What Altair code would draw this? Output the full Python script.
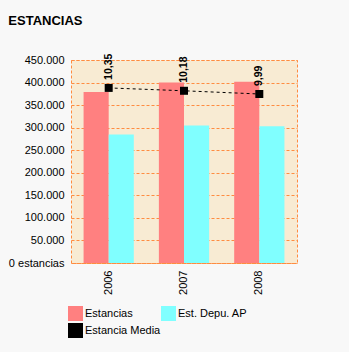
import altair as alt
import pandas as pd

years = ["2006", "2007", "2008"]
estancias = [379000, 400000, 402000]
est_depu = [285000, 305000, 303000]
media = [10.35, 10.18, 9.99]
series_bar = ["Estancias", "Est. Depu. AP"]
series_line = "Estancia Media"

bars = pd.DataFrame(
    [{"year": y, "serie": series_bar[0], "valor": v} for y, v in zip(years, estancias)]
    + [{"year": y, "serie": series_bar[1], "valor": v} for y, v in zip(years, est_depu)]
)
line = pd.DataFrame({"year": years, "media": media, "serie": [series_line] * 3})

FONT = "Liberation Sans"
GRID = "#FF8C40"
all_series = series_bar + [series_line]
legend_order = [series_bar[0], series_line, series_bar[1]]  # column-major fill
color_scale = alt.Scale(domain=all_series, range=["#FF8080", "#80FFFF", "#000000"])
x_enc = alt.X(
    "year:N",
    title=None,
    scale=alt.Scale(paddingInner=0.333, paddingOuter=0.167),
    axis=alt.Axis(
        labelAngle=-90, ticks=False, domain=False, labelPadding=7,
        labelFont=FONT, labelFontSize=11, labelColor="#000000", grid=False,
    ),
)
legend = alt.Legend(
    title=None, orient="none", legendX=-3, legendY=246, columns=2,
    values=legend_order,
    symbolType="square", symbolSize=225, symbolStrokeWidth=0, symbolOpacity=1,
    labelFont=FONT, labelFontSize=11, labelOffset=2, columnPadding=0,
    rowPadding=2, padding=0, labelColor="#000000",
)

bar_layer = alt.Chart(bars).mark_bar(opacity=1).encode(
    x=x_enc,
    xOffset=alt.XOffset("serie:N", sort=series_bar, scale=alt.Scale(paddingInner=0, paddingOuter=0)),
    y=alt.Y(
        "valor:Q", title=None,
        scale=alt.Scale(domain=[0, 450000], nice=False),
        axis=alt.Axis(
            values=list(range(0, 450001, 50000)), ticks=False, domain=False,
            labelPadding=7, labelFont=FONT, labelFontSize=11, labelColor="#000000",
            grid=True, gridColor=GRID, gridDash=[3, 2], gridWidth=1, gridOpacity=1,
            labelExpr="datum.value == 0 ? '0 estancias' : replace(format(datum.value, ',d'), ',', '.')",
        ),
    ),
    color=alt.Color("serie:N", scale=color_scale, sort=all_series, legend=legend),
)

y_right = alt.Y(
    "media:Q", title=None,
    scale=alt.Scale(domain=[0, 12], nice=False),
    axis=alt.Axis(
        orient="right", values=[0, 2, 4, 6, 8, 10, 12], ticks=False, domain=False,
        grid=False, labelPadding=6, labelFont=FONT, labelFontSize=12,
        labelFontWeight="bold", labelColor="#FFFFFF",
        labelExpr="replace(format(datum.value, '.2f'), '.', ',')",
    ),
)
base_line = alt.Chart(line).encode(x=x_enc, y=y_right)
line_layer = base_line.mark_line(strokeDash=[3, 3], strokeWidth=1, color="#000000").encode(
    color=alt.Color("serie:N", scale=color_scale, sort=all_series, legend=legend)
)
pts = base_line.mark_point(shape="square", filled=True, size=64, color="#000000", opacity=1)
labels = base_line.transform_calculate(
    lab="replace(format(datum.media, '.2f'), '.', ',')"
).mark_text(
    angle=270, align="left", baseline="middle", dx=8, font=FONT,
    fontSize=10.5, fontWeight="bold", color="#000000",
).encode(text="lab:N", y=alt.Y("media:Q", scale=alt.Scale(domain=[0, 12], nice=False), axis=None))

right = alt.layer(line_layer, pts, labels)

chart = (
    alt.layer(bar_layer, right)
    .resolve_scale(y="independent")
    .properties(
        width=226, height=203,
        autosize=alt.AutoSizeParams(type="none"),
        padding={"left": 71, "top": 60, "right": 52, "bottom": 89},
        background="#F8F8F8",
        title=alt.Title(
            "ESTANCIAS", anchor="start", frame="bounds", font=FONT, fontSize=13,
            fontWeight="bold", color="#000000", offset=26,
        ),
    )
    .configure_view(fill="#F8EBD3", stroke=GRID, strokeDash=[3, 2], strokeWidth=1)
)

chart.save("out.html", embed_options={"renderer": "svg", "actions": False})
